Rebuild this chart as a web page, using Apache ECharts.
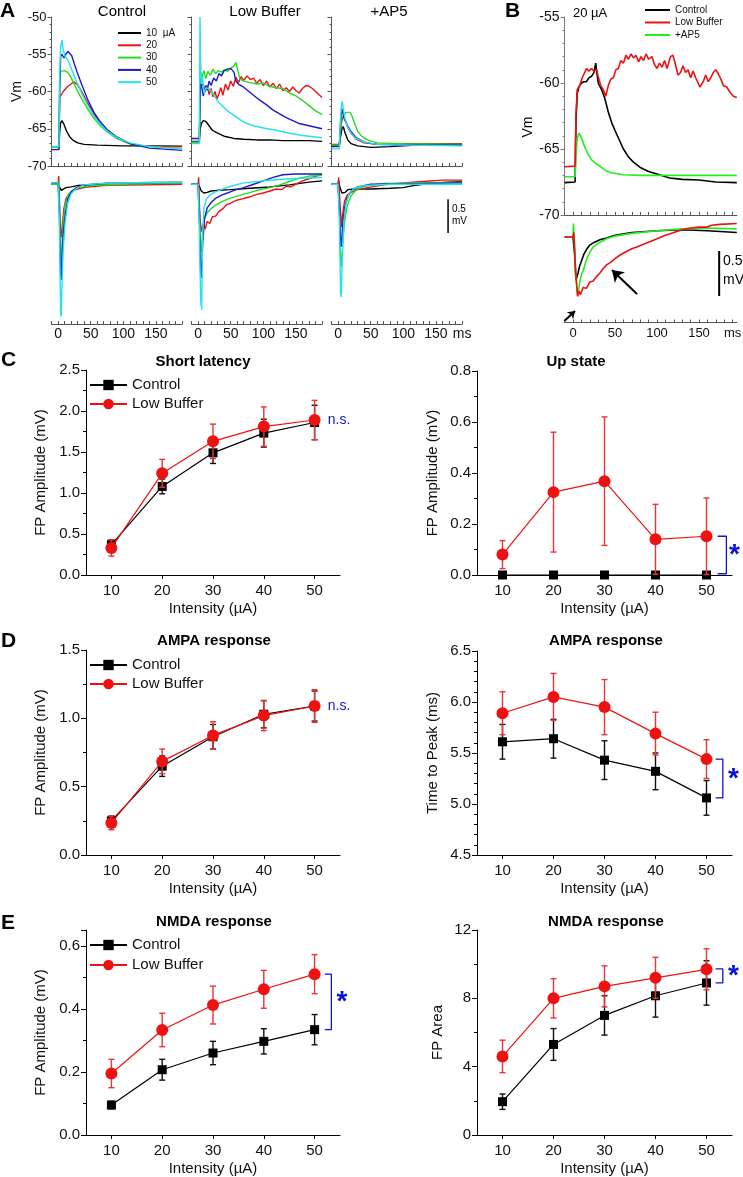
<!DOCTYPE html>
<html>
<head>
<meta charset="utf-8">
<script src="https://cdn.jsdelivr.net/npm/echarts@6/dist/echarts.min.js"></script>
<style>
html, body { margin: 0; padding: 0; background: #fff; }
#main { width: 743px; height: 1177px; }
</style>
</head>
<body>
<div id="main"></div>
<script>
// ---------- data: panel A / B traces ([ms, mV]) ----------
const ctrlTop10 = [[-10,-67.4],[1.5,-67.4],[2.5,-65.5],[4,-64.2],[6,-63.9],[9,-64.4],[13,-65.3],[18,-66.1],[24,-66.6],[30,-66.9],[40,-67.1],[60,-67.2],[100,-67.3],[140,-67.3],[190,-67.35]];
const ctrlTop20 = [[-10,-67.4],[1.5,-67.4],[2.5,-60.8],[5,-60.6],[8,-60.0],[11,-59.8],[14,-59.4],[17,-59.6],[20,-59.0],[24,-58.7],[27,-58.5],[29,-59.0],[33,-59.5],[38,-60.3],[45,-61.5],[55,-63.0],[65,-64.3],[75,-65.3],[90,-66.3],[110,-67.0],[130,-67.3],[160,-67.4],[190,-67.4]];
const ctrlTop30 = [[-10,-67.5],[1.5,-67.5],[2.5,-59],[4,-57.3],[7,-57.1],[10,-57.2],[14,-57.4],[18,-57.8],[22,-58.5],[28,-59.6],[35,-60.8],[45,-62.3],[55,-63.6],[65,-64.6],[75,-65.4],[90,-66.3],[110,-67.0],[130,-67.3],[160,-67.5],[190,-67.6]];
const ctrlTop40 = [[-10,-67.8],[1.5,-67.8],[2.5,-60],[4,-55.3],[6,-55.0],[9,-55.5],[12,-55.0],[15,-54.6],[18,-54.5],[21,-55.2],[25,-56.3],[30,-57.6],[36,-59.0],[45,-61.0],[55,-62.8],[65,-64.1],[75,-65.1],[90,-66.1],[110,-67.0],[140,-67.6],[190,-67.9]];
const ctrlTop50 = [[-10,-67.4],[1.5,-67.4],[2.5,-58],[4,-54.0],[6,-53.1],[8,-54.5],[11,-55.3],[15,-55.8],[20,-56.8],[25,-58.0],[30,-59.0],[36,-60.2],[45,-61.8],[55,-63.3],[65,-64.4],[75,-65.3],[90,-66.2],[110,-66.9],[140,-67.4],[190,-67.7]];

const lowTop10 = [[-10,-66.7],[2,-66.7],[3,-65.2],[5,-64.3],[8,-63.9],[12,-64.0],[16,-64.5],[22,-65.2],[30,-65.6],[40,-66.0],[55,-66.3],[70,-66.4],[90,-66.5],[110,-66.5],[130,-66.6],[150,-66.6],[170,-66.6],[190,-66.7]];
const lowTop20 = [[-10,-66.8],[2,-66.8],[3,-62],[4,-59.3],[6,-59.5],[8,-59.0],[11,-60.0],[14,-59.2],[17,-60.4],[20,-59.6],[23,-60.7],[26,-60.0],[29,-61.0],[32,-60.3],[35,-59.5],[38,-60.5],[42,-59.0],[46,-59.8],[50,-58.6],[54,-59.3],[58,-58.1],[62,-58.8],[66,-58.0],[70,-58.5],[75,-57.9],[80,-58.4],[85,-58.2],[90,-58.9],[95,-58.4],[100,-59.2],[105,-58.6],[110,-59.4],[115,-58.9],[120,-59.6],[125,-59.0],[130,-59.9],[135,-59.5],[140,-60.0],[145,-59.4],[150,-59.9],[155,-60.2],[160,-59.6],[165,-59.2],[170,-59.3],[175,-59.6],[180,-60.0],[185,-60.4],[190,-60.8]];
const lowTop30 = [[-10,-66.8],[2,-66.8],[3,-62],[4,-57.5],[6,-58],[9,-57.2],[12,-58.3],[15,-57.3],[19,-57.8],[23,-57.0],[27,-57.6],[31,-57.2],[36,-57.4],[40,-57.1],[45,-57.3],[50,-56.9],[55,-56.6],[58,-56.1],[61,-57.2],[64,-58.3],[70,-58.6],[80,-58.8],[90,-59.0],[100,-58.9],[110,-59.3],[120,-59.5],[130,-59.6],[140,-60.2],[150,-60.6],[160,-61.2],[170,-61.9],[180,-62.6],[190,-63.1]];
const lowTop40 = [[-10,-66.3],[2,-66.3],[3,-61],[4,-58.3],[6,-59.5],[8,-60.6],[10,-60.0],[12,-59.2],[14,-59.8],[17,-58.6],[20,-59.2],[24,-58.2],[28,-58.6],[32,-57.6],[36,-57.9],[40,-57.2],[45,-57.0],[50,-56.9],[55,-57.4],[58,-58.6],[62,-59.0],[68,-59.3],[75,-59.8],[85,-60.5],[95,-61.2],[105,-61.8],[115,-62.5],[125,-63.0],[135,-63.5],[145,-63.9],[155,-64.3],[165,-64.5],[175,-64.7],[190,-65.0]];
const lowTop50 = [[-10,-67.0],[2,-67.0],[3,-50],[4,-56],[5,-59],[7,-58],[9,-60.3],[12,-59.5],[16,-59.6],[20,-59.9],[25,-60.6],[30,-61.3],[38,-62.0],[45,-62.6],[55,-63.2],[65,-63.8],[75,-64.3],[85,-64.6],[100,-64.9],[120,-65.2],[140,-65.6],[160,-65.9],[180,-66.1],[190,-66.2]];

const apTop10 = [[-10,-67.2],[2,-67.2],[4,-66],[6,-65],[8,-64.7],[11,-65.6],[15,-66.5],[20,-67.0],[30,-67.3],[50,-67.5],[80,-67.4],[120,-67.2],[190,-67.2]];
const apTop20 = [[-10,-67.1],[2,-67.1],[4,-65],[6,-63.8],[8,-63.3],[11,-63.8],[15,-64.8],[20,-65.6],[28,-66.4],[40,-66.9],[60,-67.1],[100,-67.0],[190,-67.0]];
const apTop30 = [[-10,-67.2],[2,-67.2],[4,-65],[6,-63.5],[9,-63.2],[12,-62.8],[18,-62.8],[21,-63.2],[25,-64.2],[30,-65.3],[36,-66.0],[45,-66.5],[60,-66.9],[100,-67.0],[190,-67.1]];
const apTop40 = [[-10,-67.4],[2,-67.4],[4,-64],[6,-62.3],[8,-62.5],[10,-63.8],[14,-64.5],[20,-65.4],[28,-66.2],[40,-66.8],[60,-67.1],[100,-67.2],[190,-67.2]];
const apTop50 = [[-10,-67.7],[2,-67.7],[3,-65],[5,-62],[6.5,-61.3],[8,-62.3],[11,-63.8],[15,-64.8],[20,-65.6],[28,-66.3],[40,-66.8],[60,-67.1],[100,-67.2],[190,-67.3]];

const ctrlBot10 = [[-10,0],[0,0],[1,0.02],[2,-0.02],[5,-0.09],[8,-0.08],[12,-0.05],[20,-0.04],[30,-0.02],[60,-0.01],[190,0.0]];
const ctrlBot20 = [[-10,0],[0,0],[1,0.12],[2,-0.2],[4,-0.75],[5,-0.78],[7,-0.55],[9,-0.36],[12,-0.22],[16,-0.15],[22,-0.1],[30,-0.07],[45,-0.04],[70,-0.02],[100,-0.01],[190,0.0]];
const ctrlBot30 = [[-10,0],[0,0],[1,0.05],[2,-0.3],[4,-1.1],[5,-1.2],[6,-0.9],[8,-0.55],[11,-0.3],[15,-0.17],[22,-0.09],[30,-0.05],[50,-0.02],[100,0.0],[190,0.02]];
const ctrlBot40 = [[-10,0.02],[0,0.02],[2,-0.4],[4,-1.35],[5,-1.41],[6,-1.1],[8,-0.72],[11,-0.45],[15,-0.22],[20,-0.12],[28,-0.05],[40,-0.01],[80,0.02],[190,0.03]];
const ctrlBot50 = [[-10,0.02],[0,0.02],[2,-0.5],[4,-1.9],[4.8,-1.95],[6,-1.5],[8,-0.95],[11,-0.55],[15,-0.27],[20,-0.14],[28,-0.06],[40,-0.01],[80,0.02],[190,0.03]];

const lowBot10 = [[-10,0],[0,0],[2,-0.03],[5,-0.1],[9,-0.13],[14,-0.12],[20,-0.1],[30,-0.09],[50,-0.08],[80,-0.06],[110,-0.04],[140,-0.01],[170,0.03],[190,0.05]];
const lowBot20 = [[-10,0],[0,0],[1,0.1],[2,-0.3],[4,-0.6],[6,-0.7],[8,-0.58],[11,-0.66],[14,-0.55],[18,-0.58],[22,-0.48],[27,-0.47],[32,-0.4],[38,-0.36],[44,-0.3],[50,-0.28],[58,-0.24],[66,-0.22],[74,-0.2],[82,-0.18],[90,-0.15],[100,-0.13],[110,-0.1],[120,-0.07],[128,-0.08],[135,-0.03],[142,-0.04],[150,0.0],[160,0.05],[170,0.08],[180,0.12],[190,0.14]];
const lowBot30 = [[-10,0],[0,0],[2,-0.4],[4,-0.95],[5,-1.0],[7,-0.7],[10,-0.5],[14,-0.42],[20,-0.36],[28,-0.3],[36,-0.26],[45,-0.22],[55,-0.19],[65,-0.16],[80,-0.12],[95,-0.08],[110,-0.05],[125,-0.01],[140,0.04],[155,0.09],[170,0.12],[190,0.13]];
const lowBot40 = [[-10,0],[0,0],[2,-0.5],[4,-1.3],[5,-1.38],[7,-0.9],[10,-0.5],[14,-0.35],[20,-0.27],[28,-0.2],[36,-0.16],[45,-0.13],[55,-0.09],[70,-0.05],[85,0.0],[100,0.05],[115,0.1],[130,0.14],[150,0.15],[190,0.15]];
const lowBot50 = [[-10,0],[0,0],[2,-0.6],[4,-1.7],[5.5,-1.85],[7,-0.8],[9,-0.35],[13,-0.22],[18,-0.16],[25,-0.12],[35,-0.08],[50,-0.03],[70,0.02],[100,0.05],[140,0.08],[190,0.1]];

const apBot10 = [[-10,0],[0,0],[1,0.05],[3,-0.05],[6,-0.13],[8,-0.15],[11,-0.12],[15,-0.08],[25,-0.07],[50,-0.07],[80,-0.06],[100,-0.05],[115,-0.02],[130,0.0],[150,0.02],[190,0.04]];
const apBot20 = [[-10,0],[0,0],[1,0.1],[3,-0.3],[5.5,-0.63],[7,-0.45],[10,-0.25],[14,-0.16],[20,-0.12],[30,-0.08],[45,-0.05],[70,-0.01],[100,0.02],[130,0.04],[160,0.06],[190,0.06]];
const apBot30 = [[-10,0],[0,0],[2,-0.4],[4,-1.15],[5,-1.22],[7,-0.9],[10,-0.55],[14,-0.32],[20,-0.17],[28,-0.08],[40,-0.03],[70,0.01],[190,0.03]];
const apBot40 = [[-10,0],[0,0],[2,-0.35],[4,-0.88],[5,-0.92],[7,-0.6],[10,-0.35],[14,-0.2],[20,-0.1],[30,-0.04],[50,0.0],[190,0.02]];
const apBot50 = [[-10,0],[0,0],[2,-0.5],[4,-1.6],[5,-1.66],[6.5,-1.1],[9,-0.55],[12,-0.3],[17,-0.14],[25,-0.06],[40,-0.02],[80,0.0],[190,0.0]];

const bTopCtrl = [[-10,-67.55],[2.5,-67.5],[3.5,-63],[5,-60.8],[7,-60.3],[10,-60.0],[13,-59.9],[16,-59.9],[19,-59.6],[22,-59.5],[25,-59.2],[27,-58.5],[28,-58.6],[30,-60.0],[34,-60.5],[38,-61.2],[42,-62.2],[46,-63.0],[50,-63.6],[55,-64.3],[60,-65.0],[66,-65.6],[72,-66.0],[80,-66.4],[90,-66.7],[100,-66.9],[115,-67.2],[130,-67.3],[150,-67.35],[170,-67.5],[195,-67.55]];
const bTopLow = [[-10,-66.35],[2.5,-66.3],[3.5,-62.5],[5,-60.5],[8,-60.2],[11,-59.6],[14,-59.2],[16,-58.9],[19,-59.1],[22,-58.9],[25,-59.1],[28,-59.0],[30,-59.5],[33,-60.2],[36,-60.5],[39,-61.0],[42,-60.2],[45,-59.7],[48,-59.6],[51,-59.0],[54,-58.9],[57,-58.3],[60,-58.5],[63,-57.9],[66,-58.2],[69,-57.8],[72,-58.1],[75,-57.9],[78,-58.4],[81,-58.0],[84,-58.3],[87,-57.8],[90,-58.2],[94,-58.0],[97,-58.6],[100,-58.9],[103,-58.5],[106,-58.8],[109,-58.3],[112,-58.9],[116,-58.0],[119,-57.9],[122,-58.6],[125,-59.4],[128,-59.2],[131,-58.7],[134,-59.2],[137,-59.0],[140,-59.6],[143,-59.1],[146,-59.6],[149,-60.0],[151,-60.3],[155,-59.9],[158,-59.4],[161,-59.9],[164,-59.6],[167,-59.2],[170,-59.0],[173,-59.3],[176,-59.7],[179,-60.2],[183,-60.3],[187,-60.7],[191,-61.0],[195,-61.1]];
const bTopAp5 = [[-10,-67.1],[2.5,-67.1],[3.5,-65.5],[5,-64.2],[7,-63.8],[9,-64.0],[12,-64.5],[15,-65.0],[18,-65.4],[22,-65.8],[27,-66.1],[32,-66.3],[38,-66.6],[45,-66.8],[60,-66.95],[80,-67.0],[120,-67.0],[160,-67.0],[195,-67.0]];
const bBotCtrl = [[-10,0],[0,0],[1,0.02],[2,-0.2],[3.5,-0.48],[4.5,-0.48],[6,-0.4],[8,-0.32],[10,-0.27],[13,-0.19],[16,-0.14],[20,-0.09],[25,-0.06],[32,-0.03],[40,-0.01],[50,0.02],[70,0.05],[100,0.07],[130,0.08],[160,0.07],[195,0.05]];
const bBotLow = [[-10,0],[0,0],[1,0.05],[3,-0.35],[5,-0.62],[5.5,-0.66],[7,-0.6],[9,-0.64],[12,-0.56],[16,-0.57],[20,-0.5],[24,-0.49],[28,-0.44],[32,-0.4],[36,-0.35],[40,-0.31],[45,-0.28],[50,-0.24],[56,-0.2],[62,-0.17],[70,-0.13],[76,-0.11],[84,-0.08],[92,-0.05],[100,-0.02],[110,0.02],[120,0.05],[130,0.08],[140,0.1],[150,0.11],[160,0.11],[165,0.13],[175,0.14],[195,0.15]];
const bBotAp5 = [[-10,0],[0,0],[0.5,0.15],[1.5,0.0],[3,-0.4],[5,-0.6],[6.3,-0.63],[8,-0.5],[10,-0.42],[12.3,-0.37],[16,-0.25],[20,-0.17],[24,-0.11],[30,-0.07],[40,-0.02],[50,0.01],[70,0.04],[100,0.07],[130,0.09],[160,0.1],[195,0.09]];

// ---------- data: panels C–E (mean, s.e.m.) ----------
const intensity = [10, 20, 30, 40, 50];
const shortCtrl = [0.37, 1.08, 1.49, 1.73, 1.86];
const shortCtrlErr = [0.06, 0.09, 0.13, 0.17, 0.21];
const shortLow = [0.33, 1.24, 1.63, 1.81, 1.89];
const shortLowErr = [0.1, 0.17, 0.21, 0.24, 0.24];
const upCtrl = [0, 0, 0, 0, 0];
const upCtrlErr = [0, 0, 0, 0, 0];
const upLow = [0.08, 0.325, 0.368, 0.14, 0.152];
const upLowErr = [0.055, 0.235, 0.252, 0.137, 0.15];
const ampaCtrl = [0.25, 0.65, 0.865, 1.03, 1.09];
const ampaCtrlErr = [0.035, 0.075, 0.09, 0.1, 0.11];
const ampaLow = [0.235, 0.685, 0.875, 1.02, 1.09];
const ampaLowErr = [0.05, 0.09, 0.1, 0.11, 0.12];
const ttpCtrl = [5.61, 5.64, 5.43, 5.32, 5.06];
const ttpCtrlErr = [0.17, 0.19, 0.19, 0.18, 0.17];
const ttpLow = [5.89, 6.05, 5.95, 5.69, 5.44];
const ttpLowErr = [0.21, 0.23, 0.27, 0.21, 0.19];
const nmdaCtrl = [0.095, 0.207, 0.26, 0.297, 0.334];
const nmdaCtrlErr = [0.012, 0.033, 0.037, 0.04, 0.048];
const nmdaLow = [0.195, 0.333, 0.412, 0.462, 0.51];
const nmdaLowErr = [0.045, 0.053, 0.06, 0.06, 0.062];
const areaCtrl = [1.95, 5.3, 7.0, 8.15, 8.9];
const areaCtrlErr = [0.45, 0.93, 1.15, 1.25, 1.3];
const areaLow = [4.6, 8.0, 8.7, 9.2, 9.7];
const areaLowErr = [0.95, 1.15, 1.2, 1.2, 1.2];

// tick values
const traceTicks = [-10,0,10,20,30,40,50,60,70,80,90,100,110,120,130,140,150,160,170,180,190];
const traceLabels = [0, 50, 100, 150];
const traceLabelsMs = [0, 50, 100, 150, 190];

// significance brackets / labels (data units)
const upBracket = [[52.2,0.152],[53.9,0.152],[53.9,0.005],[52.2,0.005]];
const ttpBracket = [[51.8,5.44],[53.2,5.44],[53.2,5.06],[51.8,5.06]];
const nmdaBracket = [[52.0,0.51],[53.3,0.51],[53.3,0.334],[52.0,0.334]];
const areaBracket = [[51.8,9.72],[53.2,9.72],[53.2,8.9],[51.8,8.9]];
const scaleBarA = [[168.5,-0.22],[168.5,-0.72]];
const scaleBarB = [[174,-0.156],[174,-0.656]];

const FONT = 'Arial, "Liberation Sans", sans-serif';
const AX = '#555';
const SIG = '#0a14d8';
const traceColors = ['#000000', '#ee1111', '#22dd22', '#1a1acc', '#22e2ee'];
const traceNames = ['10', '20', '30', '40', '50'];

const chart = echarts.init(document.getElementById('main'));

const grids = [
  { left: 51.5, top: 17, width: 130.6, height: 149 },
  { left: 191.5, top: 17, width: 130.6, height: 149 },
  { left: 331.5, top: 17, width: 130.6, height: 149 },
  { left: 51.5, top: 172, width: 130.6, height: 152 },
  { left: 191.5, top: 172, width: 130.6, height: 152 },
  { left: 331.5, top: 172, width: 130.6, height: 152 },
  { left: 564.6, top: 17, width: 172.2, height: 198 },
  { left: 564.6, top: 214.5, width: 172.2, height: 108 },
  { left: 86, top: 370, width: 254, height: 205 },
  { left: 477, top: 371, width: 255, height: 204 },
  { left: 86, top: 650, width: 254, height: 205 },
  { left: 477, top: 651, width: 255, height: 204 },
  { left: 86, top: 930, width: 254, height: 205 },
  { left: 477, top: 930, width: 255, height: 205 }
].map(g => Object.assign({ containLabel: false, outerBoundsMode: 'none' }, g));

const xAxes = [];
const yAxes = [];

// trace panels
for (let i = 0; i < 8; i++) {
  const isB = i >= 6;
  const bottom = i === 3 || i === 4 || i === 5 || i === 7;
  xAxes.push({
    gridIndex: i, type: 'value', min: -10, max: isB ? 195 : 190,
    axisLine: { onZero: false, lineStyle: { color: AX, width: 1 } },
    axisTick: { inside: true, length: 3, customValues: traceTicks, lineStyle: { color: AX } },
    axisLabel: bottom ? {
      show: true, customValues: (i === 5 || i === 7) ? traceLabelsMs : traceLabels,
      formatter: v => (v === 190 ? 'ms' : String(v)),
      fontSize: isB ? 13 : 14, margin: isB ? 4 : 3, color: '#111', fontFamily: FONT
    } : { show: false },
    splitLine: { show: false }
  });
}
for (let i = 0; i < 3; i++) {
  yAxes.push({
    gridIndex: i, type: 'value', min: -70, max: -50, interval: 5,
    axisLine: { show: true, onZero: false, lineStyle: { color: AX } },
    axisTick: { show: true, length: 4, lineStyle: { color: AX } },
    minorTick: { show: true, splitNumber: 5, length: 2, lineStyle: { color: AX } },
    axisLabel: { show: i === 0, fontSize: 13, margin: 5, color: '#111', fontFamily: FONT },
    splitLine: { show: false },
    name: i === 0 ? 'Vm' : '', nameLocation: 'middle', nameGap: 27,
    nameTextStyle: { fontSize: 14, color: '#111', fontFamily: FONT }
  });
}
for (let i = 3; i < 6; i++) {
  yAxes.push({ gridIndex: i, type: 'value', show: false, min: -2.06, max: 0.18, axisLine: { onZero: false } });
}
yAxes.push({
  gridIndex: 6, type: 'value', min: -70, max: -55, interval: 5,
  axisLine: { show: true, onZero: false, lineStyle: { color: '#777' } },
  axisTick: { show: true, length: 4, lineStyle: { color: '#777' } },
  minorTick: { show: true, splitNumber: 5, length: 2, lineStyle: { color: '#777' } },
  axisLabel: { fontSize: 14, margin: 5, color: '#111', fontFamily: FONT },
  splitLine: { show: false }
});
yAxes.push({ gridIndex: 7, type: 'value', show: false, min: -0.95, max: 0.25, axisLine: { onZero: false } });

// summary panels
const yCfg = [
  { min: 0, max: 2.5, interval: 0.5, split: 2, name: 'FP Amplitude (mV)', gap: 38, dec: 1 },
  { min: 0, max: 0.8, interval: 0.2, split: 2, name: 'FP Amplitude (mV)', gap: 37, dec: 1 },
  { min: 0, max: 1.5, interval: 0.5, split: 2, name: 'FP Amplitude (mV)', gap: 38, dec: 1 },
  { min: 4.5, max: 6.5, interval: 0.5, split: 5, name: 'Time to Peak (ms)', gap: 37, dec: 1 },
  { min: 0, max: 0.65, interval: 0.2, split: 2, name: 'FP Amplitude (mV)', gap: 38, dec: 1 },
  { min: 0, max: 12, interval: 4, split: 2, name: 'FP Area', gap: 32, dec: 0 }
];
yCfg.forEach((c, k) => {
  const g = 8 + k;
  xAxes.push({
    gridIndex: g, type: 'value', min: 5, max: 55,
    axisLine: { onZero: false, lineStyle: { color: '#000' } },
    axisTick: { customValues: intensity, length: 4, lineStyle: { color: '#000' } },
    axisLabel: { customValues: intensity, fontSize: 15, margin: 8, color: '#111', fontFamily: FONT },
    splitLine: { show: false },
    name: 'Intensity (\u00b5A)', nameLocation: 'middle', nameGap: 26,
    nameTextStyle: { fontSize: 15, color: '#111', fontFamily: FONT }
  });
  yAxes.push({
    gridIndex: g, type: 'value', min: c.min, max: c.max, interval: c.interval,
    axisLine: { show: true, onZero: false, lineStyle: { color: '#000' } },
    axisTick: { show: true, length: 5, lineStyle: { color: '#000' } },
    minorTick: { show: true, splitNumber: c.split, length: 3, lineStyle: { color: '#000' } },
    axisLabel: { fontSize: 15, margin: 6, color: '#111', fontFamily: FONT, showMaxLabel: c.max !== 0.65,
      formatter: v => v.toFixed(c.dec) },
    splitLine: { show: false },
    name: c.name, nameLocation: 'middle', nameGap: c.gap,
    nameTextStyle: { fontSize: 15, color: '#111', fontFamily: FONT }
  });
});

// ---------- series ----------
const series = [];

function errBars(grid, means, errs, color, z) {
  return {
    type: 'custom', xAxisIndex: grid, yAxisIndex: grid, z, silent: true, clip: false,
    data: intensity.map((x, i) => [x, means[i], errs[i]]),
    encode: { x: 0, y: 1 },
    renderItem(params, api) {
      const x = api.value(0), m = api.value(1), e = api.value(2);
      if (!e) return null;
      const top = api.coord([x, m + e]);
      const bot = api.coord([x, m - e]);
      const w = 3, st = { stroke: color, lineWidth: 1.4 };
      return {
        type: 'group', children: [
          { type: 'line', shape: { x1: top[0], y1: top[1], x2: bot[0], y2: bot[1] }, style: st },
          { type: 'line', shape: { x1: top[0] - w, y1: top[1], x2: top[0] + w, y2: top[1] }, style: st },
          { type: 'line', shape: { x1: bot[0] - w, y1: bot[1], x2: bot[0] + w, y2: bot[1] }, style: st }
        ]
      };
    }
  };
}
function meanLine(name, grid, means, color, symbol, size, z) {
  return {
    type: 'line', name, xAxisIndex: grid, yAxisIndex: grid, z,
    data: intensity.map((x, i) => [x, means[i]]),
    symbol, symbolSize: size, showSymbol: true, silent: true, clip: false,
    lineStyle: { color, width: 1.2 }, itemStyle: { color }
  };
}
function summary(grid, c, ce, l, le) {
  series.push(errBars(grid, c, ce, '#111', 2));
  series.push(meanLine('Control', grid, c, '#000', 'rect', 9, 3));
  series.push(errBars(grid, l, le, '#e83535', 4));
  series.push(meanLine('Low Buffer', grid, l, '#ee1111', 'circle', 12, 5));
}
summary(8, shortCtrl, shortCtrlErr, shortLow, shortLowErr);
summary(9, upCtrl, upCtrlErr, upLow, upLowErr);
summary(10, ampaCtrl, ampaCtrlErr, ampaLow, ampaLowErr);
summary(11, ttpCtrl, ttpCtrlErr, ttpLow, ttpLowErr);
summary(12, nmdaCtrl, nmdaCtrlErr, nmdaLow, nmdaLowErr);
summary(13, areaCtrl, areaCtrlErr, areaLow, areaLowErr);

function bracket(grid, pts) {
  series.push({
    type: 'line', xAxisIndex: grid, yAxisIndex: grid, data: pts, symbol: 'none', silent: true, clip: false,
    lineStyle: { color: SIG, width: 1.3 }, z: 6
  });
}
function note(grid, pt, text, size, bold, dy) {
  series.push({
    type: 'scatter', xAxisIndex: grid, yAxisIndex: grid, data: [pt], symbolSize: 2, silent: true, clip: false,
    itemStyle: { color: 'rgba(255,255,255,0)' }, z: 7,
    label: { show: true, position: 'inside', formatter: text, color: SIG, fontSize: size, opacity: 1,
      fontWeight: bold ? 'bold' : 'normal', fontFamily: FONT, offset: [0, dy] },
    labelLayout: { hideOverlap: false }
  });
}
bracket(9, upBracket);
bracket(11, ttpBracket);
bracket(12, nmdaBracket);
bracket(13, areaBracket);
note(9, [55.5, 0.078], '*', 28, true, 6);
note(11, [55.3, 5.24], '*', 28, true, 6);
note(12, [55.4, 0.42], '*', 28, true, 6);
note(13, [55.3, 9.3], '*', 28, true, 6);
note(8, [54.8, 1.89], 'n.s.', 14, false, 0);
note(10, [54.8, 1.09], 'n.s.', 14, false, 0);

function trace(name, grid, data, color, width) {
  return {
    type: 'line', name, xAxisIndex: grid, yAxisIndex: grid, data, symbol: 'none', showSymbol: false,
    silent: true, lineStyle: { color, width: width || 1.4 }, itemStyle: { color }, z: 3
  };
}
const aSets = [
  [ctrlTop10, ctrlTop20, ctrlTop30, ctrlTop40, ctrlTop50],
  [lowTop10, lowTop20, lowTop30, lowTop40, lowTop50],
  [apTop10, apTop20, apTop30, apTop40, apTop50],
  [ctrlBot10, ctrlBot20, ctrlBot30, ctrlBot40, ctrlBot50],
  [lowBot10, lowBot20, lowBot30, lowBot40, lowBot50],
  [apBot10, apBot20, apBot30, apBot40, apBot50]
];
aSets.forEach((set, g) => {
  set.forEach((d, k) => series.push(trace(traceNames[k], g, d, traceColors[k])));
});
series.push(trace('', 5, scaleBarA, '#000', 1.5));

series.push(trace('Control', 6, bTopCtrl, '#000', 1.6));
series.push(trace('+AP5', 6, bTopAp5, '#22ee22', 1.6));
series.push(trace('Low Buffer', 6, bTopLow, '#ee1111', 1.6));
series.push(trace('Control', 7, bBotCtrl, '#000', 1.6));
series.push(trace('+AP5', 7, bBotAp5, '#22ee22', 1.6));
const bLowBot = trace('Low Buffer', 7, bBotLow, '#ee1111', 1.6);
bLowBot.markLine = {
  silent: true, animation: false, label: { show: false },
  lineStyle: { color: '#000', width: 2, type: 'solid' },
  data: [
    [{ coord: [-10, -0.93], symbol: 'none' }, { coord: [2.4, -0.822], symbol: 'arrow', symbolSize: 7 }],
    [{ coord: [76.2, -0.633], symbol: 'none' }, { coord: [46.4, -0.367], symbol: 'arrow', symbolSize: 11 }]
  ]
};
series.push(bLowBot);
series.push(trace('', 7, scaleBarB, '#000', 2));

// ---------- legends ----------
const legendText = { fontSize: 15, color: '#111', fontFamily: FONT };
const legends = [
  { left: 89, top: 377.5, itemGap: 4 },
  { left: 89, top: 657.5, itemGap: 4 },
  { left: 89, top: 937.5, itemGap: 5 }
].map(p => Object.assign({
  orient: 'vertical', data: ['Control', 'Low Buffer'], itemWidth: 37, itemHeight: 13,
  selectedMode: false, textStyle: legendText, padding: 0
}, p));
legends.push({
  orient: 'vertical', left: 118, top: 28, padding: 0, itemGap: 2.3, selectedMode: false,
  data: traceNames, icon: 'rect', itemWidth: 23, itemHeight: 2,
  formatter: n => (n === '10' ? '10  \u00b5A' : n),
  textStyle: { fontSize: 10, color: '#111', fontFamily: FONT, lineHeight: 10 }
});
legends.push({
  orient: 'vertical', left: 645, top: 5, padding: 0, itemGap: 2.5, selectedMode: false,
  data: ['Control', 'Low Buffer', '+AP5'], icon: 'rect', itemWidth: 25, itemHeight: 2,
  textStyle: { fontSize: 10, color: '#111', fontFamily: FONT, lineHeight: 10 }
});

// ---------- text ----------
function txt(text, x, y, font, align, vAlign, rot) {
  return {
    type: 'text', x, y, rotation: rot || 0, silent: true,
    style: { text, font, fill: '#000', align: align || 'center', verticalAlign: vAlign || 'middle' }
  };
}
const F = (s, b) => (b ? 'bold ' : '') + s + 'px ' + FONT;
const graphic = [
  txt('A', 0, 1, F(21, true), 'left', 'top'),
  txt('B', 505, 1, F(21, true), 'left', 'top'),
  txt('C', 1, 350, F(21, true), 'left', 'top'),
  txt('D', 1, 631, F(21, true), 'left', 'top'),
  txt('E', 1, 913, F(21, true), 'left', 'top'),
  txt('Control', 122, 12, F(15)),
  txt('Low Buffer', 265, 12, F(15)),
  txt('+AP5', 389, 12, F(15)),
  txt('20 \u00b5A', 573, 13, F(13), 'left'),
  txt('Vm', 528, 127, F(14), 'center', 'middle', Math.PI / 2),
  txt('0.5', 452, 209, F(10), 'left'),
  txt('mV', 452, 221, F(10), 'left'),
  txt('0.5', 723, 261, F(14), 'left'),
  txt('mV', 723, 280, F(14), 'left'),
  txt('Short latency', 203, 362, F(15, true)),
  txt('Up state', 576, 362, F(15, true)),
  txt('AMPA response', 214, 641, F(15, true)),
  txt('AMPA response', 606, 641, F(15, true)),
  txt('NMDA response', 214, 922, F(15, true)),
  txt('NMDA response', 606, 922, F(15, true))
];

chart.setOption({
  animation: false,
  backgroundColor: '#fff',
  textStyle: { fontFamily: FONT },
  grid: grids,
  xAxis: xAxes,
  yAxis: yAxes,
  legend: legends,
  series,
  graphic
});
</script>
</body>
</html>
